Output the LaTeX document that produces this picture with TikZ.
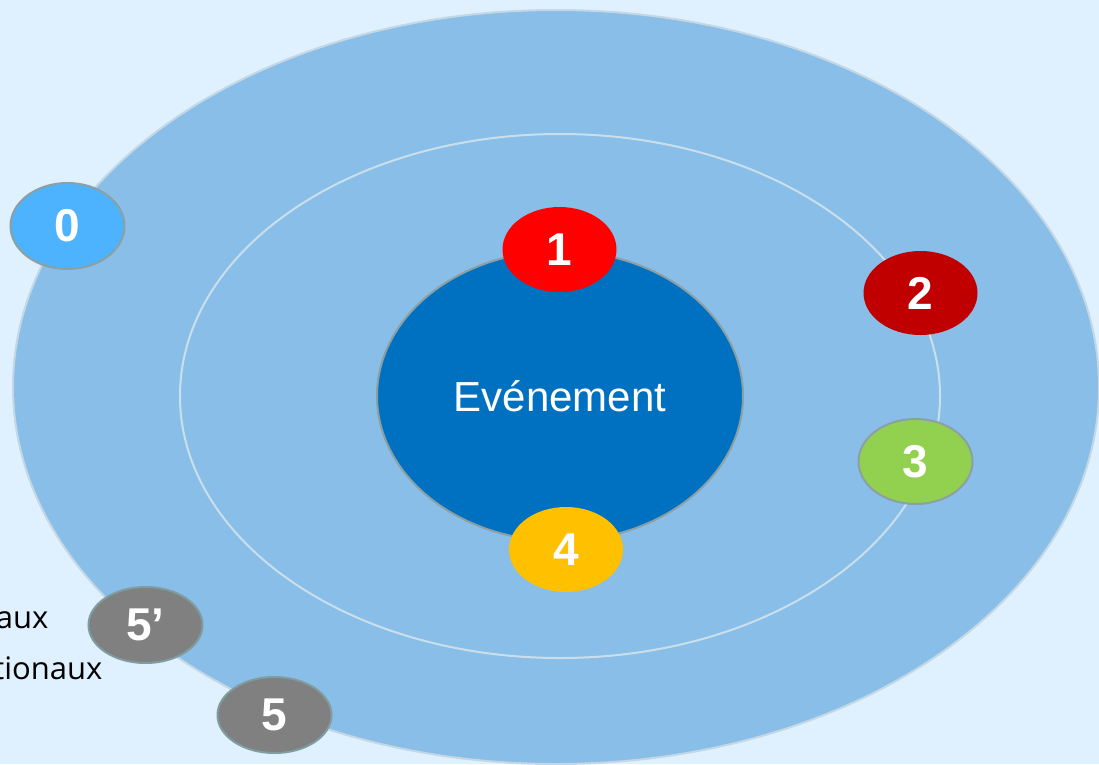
\documentclass[tikz,border=0pt]{standalone}
\usepackage{fontspec}
\setmainfont{Liberation Sans}
\newfontfamily\sidefont{Open Sans}
\usetikzlibrary{shapes.geometric}
\definecolor{bg}{HTML}{DFF0FE}
\definecolor{outerfill}{HTML}{88BEE7}
\definecolor{ringline}{HTML}{C3D8E4}
\definecolor{innerline}{HTML}{CADFEC}
\definecolor{core}{HTML}{0070C0}
\definecolor{edgegray}{HTML}{8CA0A3}
\definecolor{zeroblue}{HTML}{4DB3FF}
\definecolor{onered}{HTML}{FF0000}
\definecolor{twored}{HTML}{C00000}
\definecolor{threegreen}{HTML}{92D050}
\definecolor{fouryellow}{HTML}{FFC000}
\definecolor{fivegray}{HTML}{808080}
\definecolor{fiveedge}{HTML}{7F9C9E}
\tikzset{
  badge/.style={ellipse, inner sep=0pt, minimum width=114pt, minimum height=84pt,
    text=white, font=\bfseries\fontsize{46}{52}\selectfont},
  rimmed/.style={draw=edgegray, line width=2pt},
  sidetext/.style={anchor=base east, text=black, font=\sidefont\fontsize{31}{36}\selectfont}
}
\begin{document}
\begin{tikzpicture}[x=1pt,y=-1pt]
\fill[bg] (0,0) rectangle (1099,764);
\useasboundingbox (0,0) rectangle (1099,764);
\begin{scope}
\clip (0,0) rectangle (1099,764);
\node[ellipse, inner sep=0pt, minimum width=1086pt, minimum height=754pt,
  fill=outerfill, draw=ringline, line width=2pt] (outer) at (556,387) {};
\node[ellipse, inner sep=0pt, minimum width=760pt, minimum height=524pt,
  draw=innerline, line width=2pt] (inner) at (560,396) {};
\node[ellipse, inner sep=0pt, minimum width=366pt, minimum height=290pt,
  fill=core, draw=edgegray, line width=2pt, text=white,
  font=\fontsize{42}{48}\selectfont] (event) at (560,396) {Evénement};
\node[badge, rimmed, fill=zeroblue, minimum height=86pt] (b0) at (67.5,226) {0};
\node[badge, fill=onered, minimum height=85pt] (b1) at (559.5,249.5) {1};
\node[badge, fill=twored] (b2) at (920.5,293) {2};
\node[badge, rimmed, fill=threegreen, minimum height=85pt] (b3) at (915.5,461.5) {3};
\node[badge, fill=fouryellow, minimum height=85pt] (b4) at (566,549.5) {4};
\node[badge, draw=fiveedge, line width=2pt, fill=fivegray, minimum height=76pt] (b5p) at (145.5,625) {5’};
\node[badge, draw=fiveedge, line width=2pt, fill=fivegray, minimum height=76pt] (b5) at (274.5,715) {5};
\node[sidetext] (t1) at (52,628) {aux};
\node[sidetext] (t2) at (106,679) {tionaux};
\end{scope}
\end{tikzpicture}
\end{document}
